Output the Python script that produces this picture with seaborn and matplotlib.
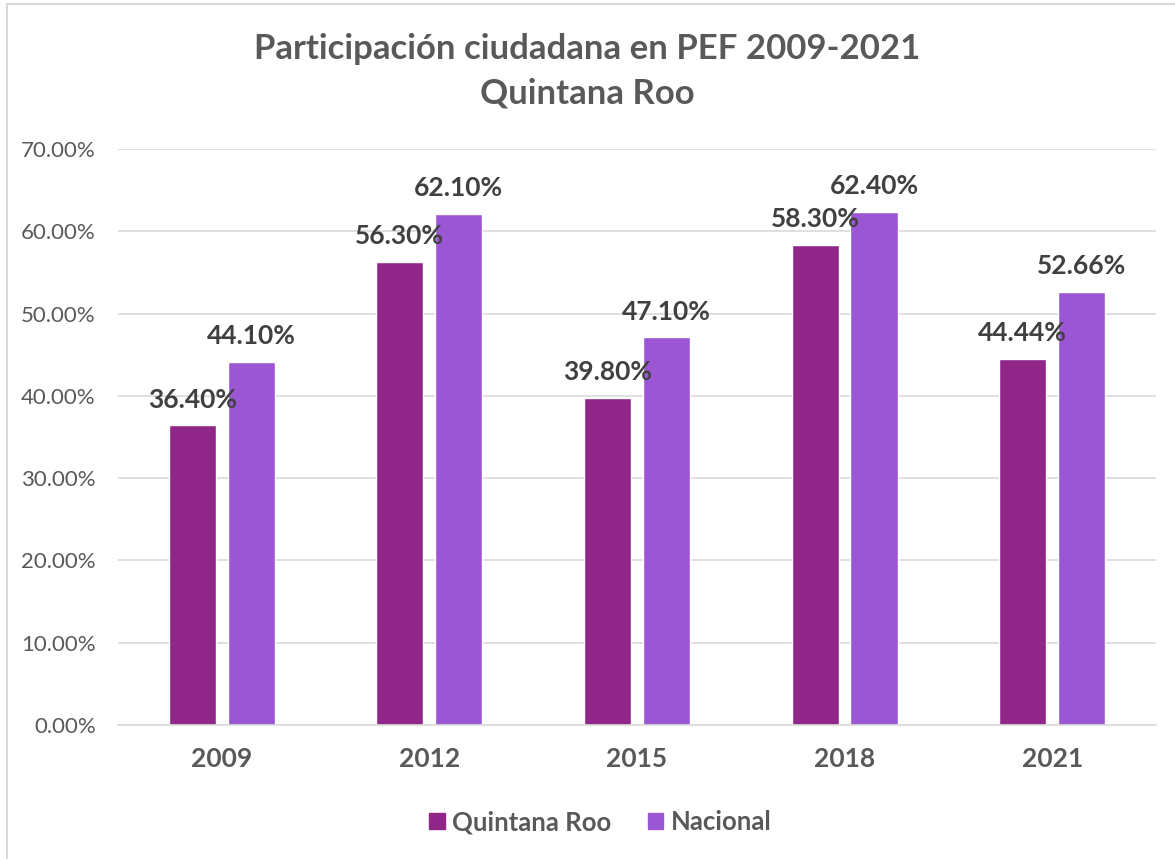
import pandas as pd
import matplotlib.pyplot as plt
import seaborn as sns
from matplotlib.ticker import FuncFormatter
from matplotlib.patches import Rectangle

years = ["2009", "2012", "2015", "2018", "2021"]
quintana_roo = [36.40, 56.30, 39.80, 58.30, 44.44]
nacional = [44.10, 62.10, 47.10, 62.40, 52.66]
series = ["Quintana Roo", "Nacional"]

COLOR_QR = '#912689'
COLOR_NAC = '#9b57d3'
TEXT_GRAY = '#595959'
LABEL_GRAY = '#404040'

df = pd.DataFrame({
    "Año": years * 2,
    "Valor": quintana_roo + nacional,
    "Serie": [series[0]] * len(years) + [series[1]] * len(years),
})

sns.set_style("white")
plt.rcParams['font.family'] = ['Lato', 'DejaVu Sans']

fig = plt.figure(figsize=(11.75, 8.59), dpi=100, facecolor='white')
ax = fig.add_axes([0.1004, 0.156, 0.8834, 0.6705])

sns.barplot(data=df, x="Año", y="Valor", hue="Serie", order=years, hue_order=series,
            palette=[COLOR_QR, COLOR_NAC], width=0.568, gap=0.2, saturation=1,
            ax=ax, legend=False)

ax.set_ylim(0, 70)
ax.set_yticks(range(0, 71, 10))
ax.yaxis.set_major_formatter(FuncFormatter(lambda v, p: f"{v:.2f}%"))
ax.grid(axis='y', color='#d9d9d9', linewidth=1.2)
ax.set_axisbelow(True)
for side in ['top', 'right', 'left']:
    ax.spines[side].set_visible(False)
ax.spines['bottom'].set_color('#d9d9d9')
ax.spines['bottom'].set_linewidth(1.2)

ax.tick_params(axis='y', length=0, labelsize=16, labelcolor=TEXT_GRAY, pad=16)
ax.tick_params(axis='x', length=0, labelsize=19, labelcolor=TEXT_GRAY, pad=16)
for lbl in ax.get_xticklabels():
    lbl.set_fontweight('bold')
ax.set_xlabel("")
ax.set_ylabel("")

for container in ax.containers:
    ax.bar_label(container, labels=[f"{b.get_height():.2f}%" for b in container],
                 padding=10, fontsize=19, fontweight='bold', color=LABEL_GRAY)

fig.text(0.5, 0.962, "Participación ciudadana en PEF 2009-2021\nQuintana Roo",
         ha='center', va='top', fontsize=25, fontweight='bold', color=TEXT_GRAY,
         linespacing=1.5)

handles = [Rectangle((0, 0), 1, 1, color=COLOR_QR), Rectangle((0, 0), 1, 1, color=COLOR_NAC)]
leg = fig.legend(handles, series, loc='center', bbox_to_anchor=(0.511, 0.043), ncol=2,
                 frameon=False, handlelength=0.6, handleheight=0.6, handletextpad=0.3,
                 columnspacing=1.4, prop={'size': 18.5, 'weight': 'bold'})
for t in leg.get_texts():
    t.set_color(TEXT_GRAY)

fig.patches.append(Rectangle((0.006, -0.05), 1.05, 1.045, transform=fig.transFigure,
                             fill=False, edgecolor='#d9d9d9', linewidth=1.5))

plt.savefig('out.png', dpi=100)
